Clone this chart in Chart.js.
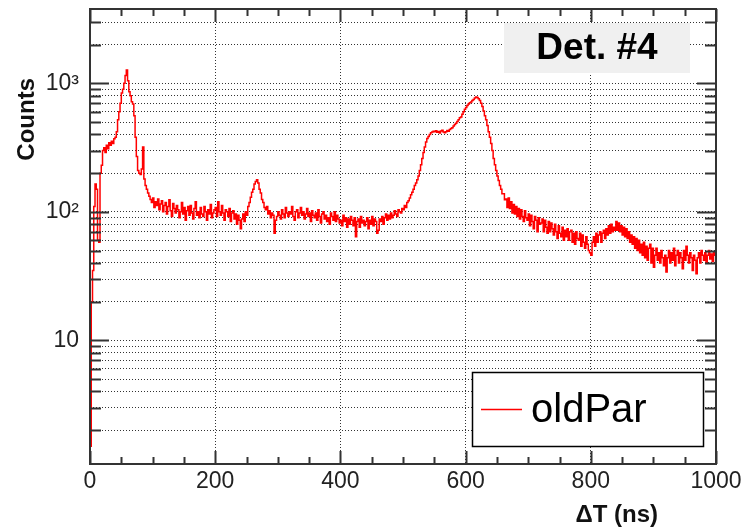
<!DOCTYPE html>
<html>
<head>
<meta charset="utf-8">
<script src="https://cdn.jsdelivr.net/npm/chart.js@4.4.0/dist/chart.umd.min.js"></script>
<style>
  html, body { margin: 0; padding: 0; background: #fff; }
  canvas { display: block; }
</style>
</head>
<body>
<canvas id="hist" width="742" height="528"></canvas>
<script>
// histogram: Delta T in 2 ns bins, counts
const binWidth = 2;
const counts = [
  1.5, 20, 35, 110, 165, 150, 60, 58, 200, 230,
  300, 315, 290, 330, 310, 345, 330, 355, 340, 370,
  380, 420, 520, 600, 700, 840, 900, 1000, 1150, 1270,
  1050, 860, 800, 720, 690, 560, 380, 270, 210, 200,
  195, 215, 320, 180, 160, 150, 140, 132, 125, 118,
  128, 108, 120, 112, 126, 104, 115, 122, 100, 112,
  118, 96, 110, 124, 102, 92, 116, 106, 98, 112,
  104, 90, 100, 118, 96, 108, 86, 102, 110, 94,
  112, 98, 88, 106, 120, 94, 100, 90, 108, 96,
  92, 110, 100, 86, 104, 96, 114, 90, 98, 104,
  108, 92, 120, 100, 94, 112, 98, 86, 104, 100,
  92, 106, 84, 98, 102, 88, 96, 80, 94, 86,
  74, 88, 96, 84, 100, 94, 110, 118, 130, 142,
  150, 165, 172, 178, 168, 150, 140, 125, 118, 108,
  104, 110, 96, 102, 90, 98, 94, 68, 86, 92,
  100, 94, 88, 104, 96, 90, 108, 98, 92, 100,
  96, 110, 92, 86, 100, 104, 90, 98, 108, 94,
  100, 88, 96, 106, 92, 98, 84, 102, 94, 90,
  98, 86, 104, 92, 82, 96, 100, 88, 94, 84,
  90, 80, 98, 92, 86, 100, 84, 94, 88, 82,
  86, 78, 94, 84, 90, 76, 88, 80, 92, 86,
  78, 90, 64, 84, 88, 76, 92, 82, 86, 78,
  84, 90, 74, 86, 80, 92, 78, 88, 84, 68,
  72, 88, 84, 92, 80, 90, 96, 86, 94, 88,
  98, 90, 94, 102, 96, 92, 104, 100, 98, 106,
  104, 112, 108, 118, 122, 128, 136, 142, 150, 160,
  168, 178, 190, 210, 232, 260, 290, 320, 350, 372,
  385, 400, 412, 418, 424, 420, 428, 416, 422, 410,
  425, 432, 418, 412, 420, 430, 424, 438, 445, 452,
  465, 478, 490, 505, 520, 540, 548, 575, 600, 630,
  650, 672, 690, 705, 715, 735, 750, 770, 784, 775,
  760, 735, 700, 660, 610, 560, 520, 470, 420, 380,
  340, 300, 260, 232, 210, 190, 175, 160, 150, 138,
  138, 124, 126, 108, 128, 106, 120, 98, 114, 96,
  110, 92, 106, 88, 104, 92, 84, 102, 90, 86,
  96, 78, 94, 84, 74, 92, 86, 70, 90, 80,
  82, 88, 70, 86, 76, 68, 84, 70, 82, 74,
  66, 80, 70, 62, 78, 68, 64, 76, 60, 72,
  64, 74, 60, 70, 72, 58, 68, 56, 70, 62,
  60, 68, 54, 66, 58, 52, 64, 56, 50, 48,
  46, 58, 64, 54, 68, 58, 66, 70, 58, 68,
  72, 62, 74, 66, 78, 68, 80, 70, 76, 72,
  84, 72, 82, 70, 78, 66, 76, 64, 74, 62,
  70, 58, 66, 56, 64, 52, 62, 50, 60, 48,
  56, 46, 58, 44, 54, 42, 52, 56, 40, 52,
  37, 46, 52, 42, 48, 40, 50, 44, 38, 46,
  34, 44, 50, 40, 48, 42, 52, 38, 46, 50,
  40, 48, 44, 36, 50, 42, 54, 46, 40, 48,
  44, 35, 46, 42, 33, 44, 48, 40, 50, 46,
  42, 48, 40, 46, 50, 43, 47, 41, 49, 46
];
const binCenters = counts.map((c, i) => i * binWidth + binWidth / 2);

const seriesLabel = 'oldPar';
const panelLabel = 'Det. #4';
const xTitle = '\u0394T (ns)';
const yTitle = 'Counts';

const xMin = 0, xMax = 1000, xStep = 200, xMinorStep = 50;
const yMin = 1.09, yMax = 3790;
// dotted grid lines at every log sub-division
const yGridValues = [2, 3, 4, 5, 6, 7, 8, 9,
  10, 20, 30, 40, 50, 60, 70, 80, 90,
  100, 200, 300, 400, 500, 600, 700, 800, 900,
  1000, 2000, 3000];
const yMajorValues = [10, 100, 1000];
const yTickLabels = ['10', '10\u00b2', '10\u00b3'];

const FONT = "'Liberation Sans', Arial, Helvetica, sans-serif";

// ROOT style frame, inner tick marks, pave and legend
const rootFrame = {
  id: 'rootFrame',
  afterDatasetsDraw(chart) {
    const ctx = chart.ctx;
    const a = chart.chartArea;
    const xs = chart.scales.x, ys = chart.scales.y;
    ctx.save();
    ctx.strokeStyle = '#333';
    ctx.lineWidth = 2;
    ctx.beginPath();
    for (let v = xMin; v <= xMax; v += xMinorStep) {
      const px = Math.round(xs.getPixelForValue(v)) + 0.5;
      const len = v % xStep === 0 ? 13 : 7;
      ctx.moveTo(px, a.bottom); ctx.lineTo(px, a.bottom - len);
      ctx.moveTo(px, a.top); ctx.lineTo(px, a.top + len);
    }
    yGridValues.forEach(v => {
      const py = Math.round(ys.getPixelForValue(v)) + 0.5;
      const len = yMajorValues.includes(v) ? 19 : 11;
      ctx.moveTo(a.left, py); ctx.lineTo(a.left + len, py);
      ctx.moveTo(a.right, py); ctx.lineTo(a.right - len, py);
    });
    ctx.stroke();
    ctx.lineWidth = 2;
    ctx.strokeRect(a.left, a.top, a.right - a.left, a.bottom - a.top);

    // panel label
    ctx.fillStyle = '#f0f0f0';
    ctx.fillRect(504, 23, 186, 50);
    ctx.fillStyle = '#000';
    ctx.font = 'bold 37px ' + FONT;
    ctx.textAlign = 'center';
    ctx.textBaseline = 'middle';
    ctx.fillText(panelLabel, 597, 49);

    // legend
    const ds = chart.data.datasets[0];
    ctx.fillStyle = '#fff';
    ctx.fillRect(472.5, 372.5, 231, 74);
    ctx.strokeStyle = '#000';
    ctx.lineWidth = 1.5;
    ctx.strokeRect(472.5, 372.5, 231, 74);
    ctx.strokeStyle = ds.borderColor;
    ctx.beginPath();
    ctx.moveTo(481, 409.5); ctx.lineTo(522, 409.5);
    ctx.stroke();
    ctx.fillStyle = '#000';
    ctx.font = '40px ' + FONT;
    ctx.textAlign = 'left';
    ctx.fillText(ds.label, 531, 411);

    // axis titles
    ctx.fillStyle = '#111';
    ctx.font = 'bold 24px ' + FONT;
    ctx.textAlign = 'right';
    ctx.fillText(xTitle, 658, 515);
    ctx.translate(27, 78);
    ctx.rotate(-Math.PI / 2);
    ctx.textAlign = 'right';
    ctx.fillText(yTitle, 0, 0);
    ctx.restore();
  }
};

new Chart(document.getElementById('hist'), {
  type: 'line',
  data: {
    labels: binCenters,
    datasets: [{
      label: seriesLabel,
      data: binCenters.map((x, i) => ({ x: x, y: counts[i] })),
      borderColor: '#ff0000',
      borderWidth: 1.5,
      pointRadius: 0,
      stepped: 'middle',
      fill: false
    }]
  },
  options: {
    responsive: false,
    devicePixelRatio: 1,
    animation: false,
    layout: { padding: { top: 9, right: 26, left: 0, bottom: 0 } },
    plugins: { legend: { display: false }, tooltip: { enabled: false } },
    scales: {
      x: {
        type: 'linear',
        min: xMin,
        max: xMax,
        afterFit: s => { s.height = 64; s.paddingLeft = 0; s.paddingRight = 0; },
        ticks: {
          stepSize: xStep, color: '#222', padding: 4, maxRotation: 0,
          font: { family: FONT, size: 23 },
          callback: v => String(v)
        },
        grid: { color: '#333', lineWidth: 1, drawTicks: false },
        border: { display: false, dash: [1, 2] }
      },
      y: {
        type: 'logarithmic',
        min: yMin,
        max: yMax,
        afterFit: s => { s.width = 90; s.paddingTop = 0; s.paddingBottom = 0; },
        afterBuildTicks: s => { s.ticks = yGridValues.map(v => ({ value: v })); },
        ticks: {
          color: '#222',
          padding: 11,
          autoSkip: false,
          font: { family: FONT, size: 23 },
          callback: v => {
            const k = yMajorValues.indexOf(v);
            return k >= 0 ? yTickLabels[k] : '';
          }
        },
        grid: { color: '#333', lineWidth: 1, drawTicks: false },
        border: { display: false, dash: [1, 2] }
      }
    }
  },
  plugins: [rootFrame]
});
</script>
</body>
</html>
